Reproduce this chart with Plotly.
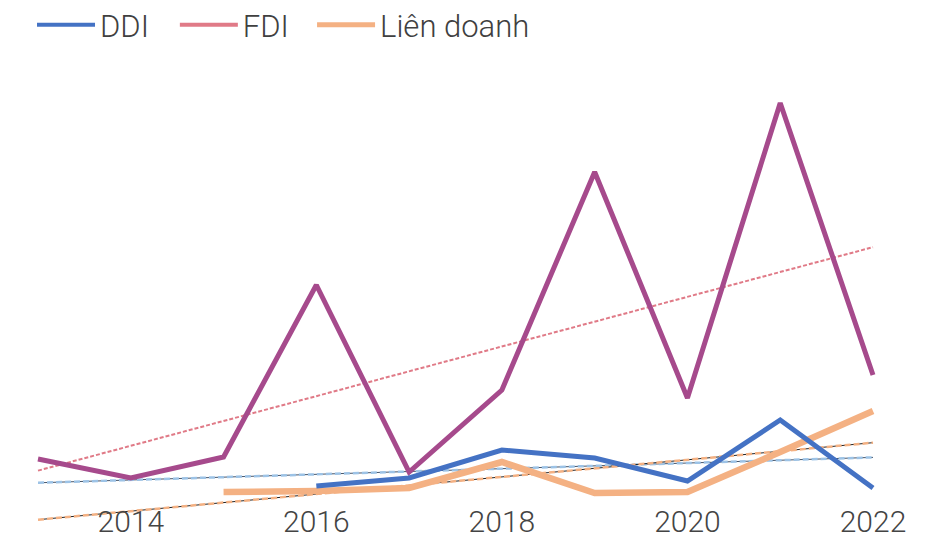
import plotly.graph_objects as go
import numpy as np

years = [2013, 2014, 2015, 2016, 2017, 2018, 2019, 2020, 2021, 2022]
ddi = [None, None, None, 36, 44, 72, 64, 41, 102, 34]
fdi = [63, 44, 65, 237, 50, 132, 350, 124, 419, 147]
lien_doanh = [None, None, 30, 31, 34, 60, 29, 30, 70, 111]
tick_years = [2014, 2016, 2018, 2020, 2022]


def trend(vals):
    # linear trendline over available points, drawn across every year
    xs = [x for x, v in zip(years, vals) if v is not None]
    ys = [v for v in vals if v is not None]
    k, b = np.polyfit(xs, ys, 1)
    return [k * x + b for x in years]


fig = go.Figure()

# trendlines (dark thin line with coloured dashes over it)
fig.add_trace(go.Scatter(x=years, y=trend(fdi), mode="lines", showlegend=False,
                         line=dict(color="#E07A87", width=2, dash="4px,2px")))
fig.add_trace(go.Scatter(x=years, y=trend(ddi), mode="lines", showlegend=False,
                         line=dict(color="#44546A", width=1)))
fig.add_trace(go.Scatter(x=years, y=trend(ddi), mode="lines", showlegend=False,
                         line=dict(color="#9DC3E6", width=2.5, dash="6px,3px")))
fig.add_trace(go.Scatter(x=years, y=trend(lien_doanh), mode="lines", showlegend=False,
                         line=dict(color="#222222", width=1)))
fig.add_trace(go.Scatter(x=years, y=trend(lien_doanh), mode="lines", showlegend=False,
                         line=dict(color="#F4B183", width=2.5, dash="6px,3px")))

# data lines
fig.add_trace(go.Scatter(x=years, y=fdi, mode="lines", showlegend=False,
                         line=dict(color="#A64A8C", width=5)))
fig.add_trace(go.Scatter(x=years, y=lien_doanh, mode="lines", showlegend=False,
                         line=dict(color="#F4B183", width=6.5)))
fig.add_trace(go.Scatter(x=years, y=ddi, mode="lines", showlegend=False,
                         line=dict(color="#4472C4", width=5)))

# legend entries, one legend each so the spacing can match
fig.add_trace(go.Scatter(x=[None], y=[None], mode="lines", name="DDI", legend="legend",
                         line=dict(color="#4472C4", width=4)))
fig.add_trace(go.Scatter(x=[None], y=[None], mode="lines", name="FDI", legend="legend2",
                         line=dict(color="#E07A87", width=4)))
fig.add_trace(go.Scatter(x=[None], y=[None], mode="lines", name="Liên doanh", legend="legend3",
                         line=dict(color="#F4B183", width=5)))

leg = dict(orientation="h", xref="container", yref="container",
           y=0.968, yanchor="middle", xanchor="left",
           font=dict(size=31, color="#404040", weight=300), itemwidth=58)

# page has an 8px body margin, so the figure is a bit smaller than the window
step = 835 / 9
fig.update_layout(
    width=927, height=533,
    margin=dict(l=0, r=0, t=52, b=0, autoexpand=False),
    paper_bgcolor="white", plot_bgcolor="white",
    font=dict(family="Roboto", size=30, color="#404040", weight=300),
    showlegend=True,
    legend=dict(leg, x=0.0259),
    legend2=dict(leg, x=0.180),
    legend3=dict(leg, x=0.328),
    xaxis=dict(range=[2013 - 30 / step, 2022 + 62 / step], tickvals=tick_years,
               ticks="", showgrid=False, zeroline=False, showline=False,
               ticklabelposition="inside", ticklabelstandoff=0),
    yaxis=dict(range=[-19, 462], visible=False, showgrid=False, zeroline=False),
)

fig.write_html("out.html")
